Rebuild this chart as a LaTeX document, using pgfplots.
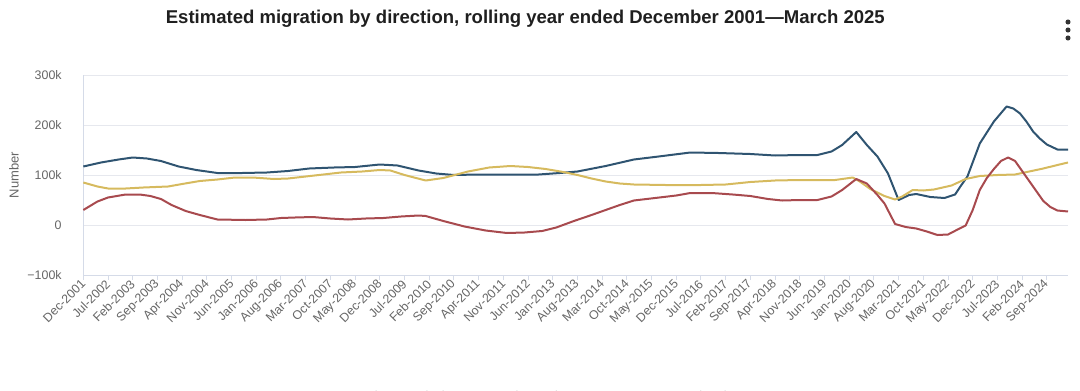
\documentclass[border=0pt]{standalone}
\usepackage{pgfplots}
\pgfplotsset{compat=1.18}
\usepackage{fontspec}
\setmainfont{Liberation Sans}
\definecolor{cblue}{HTML}{2F5471}
\definecolor{cgold}{HTML}{D6BA5E}
\definecolor{cred}{HTML}{A84A4E}
\definecolor{axisc}{HTML}{D5DBE8}
\definecolor{gridc}{HTML}{E6E8EE}
\definecolor{labc}{HTML}{666666}
\begin{document}
\begin{tikzpicture}
\useasboundingbox (0,0) rectangle (810pt,292.5pt);
\node[font=\bfseries\fontsize{13.9}{16}\selectfont, text=black!88] at (394pt,278.5pt) {Estimated migration by direction, rolling year ended December 2001—March 2025};
\fill[black!80] (801pt,276pt) circle (1.9pt) (801pt,270pt) circle (1.9pt) (801pt,264pt) circle (1.9pt);
\begin{axis}[
  at={(62.5pt,86.25pt)}, anchor=south west, scale only axis,
  width=738.5pt, height=150pt,
  xmin=0, xmax=279, ymin=-100, ymax=300,
  xtick={0,7,...,273},
  xticklabels={Dec-2001,Jul-2002,Feb-2003,Sep-2003,Apr-2004,Nov-2004,Jun-2005,Jan-2006,Aug-2006,Mar-2007,Oct-2007,May-2008,Dec-2008,Jul-2009,Feb-2010,Sep-2010,Apr-2011,Nov-2011,Jun-2012,Jan-2013,Aug-2013,Mar-2014,Oct-2014,May-2015,Dec-2015,Jul-2016,Feb-2017,Sep-2017,Apr-2018,Nov-2018,Jun-2019,Jan-2020,Aug-2020,Mar-2021,Oct-2021,May-2022,Dec-2022,Jul-2023,Feb-2024,Sep-2024},
  ytick={-100,0,100,200,300},
  yticklabels={−100k,0,100k,200k,300k},
  axis x line*=bottom, axis y line*=left,
  axis line style={draw=axisc, line width=0.75pt, -},
  tick align=outside, major tick length=3.75pt,
  xtick style={draw=axisc, line width=0.75pt},
  ytick style={draw=none},
  ymajorgrids, grid style={draw=gridc, line width=0.75pt},
  /pgf/number format/assume math mode=true,
  tick label style={font=\fontsize{9.3}{11}\selectfont, text=labc},
  xticklabel style={rotate=45, anchor=east, inner sep=1pt, yshift=-1pt},
  yticklabel style={xshift=-9pt},
  ylabel={Number},
  ylabel style={at={(axis description cs:-0.0704,0.5)}, anchor=center, font=\fontsize{9.75}{11}\selectfont, text=labc},
  legend style={at={(0.464,-0.552)}, anchor=north, legend columns=3, draw=none, fill=none, font=\fontsize{9.5}{11}\selectfont, text=labc, /tikz/every even column/.append style={column sep=18pt}},
  legend cell align=left,
  every axis plot/.append style={line width=1.5pt, line join=round},
  clip=false,
]
\addplot[cblue] coordinates {
(0,117)(5,125)(10,131)(14,135)(18,133)(22,128)(27,117)(32,110)(38,104)(45,104)(52,105)(58,108)(64,113)(71,115)(77,116)(84,121)(89,119)(95,109)(100,103)(105,100)(112,101)(121,101)(129,101)(135,104)(140,107)(148,118)(156,131)(163,137)(172,145)(180,144)(189,142)(196,139)(203,140)(208,140)(212,147)(215,160)(219,186)(222,160)(225,137)(228,103)(231,50)(234,60)(236,62)(240,56)(244,54)(247,61)(248.5,77)(250.5,97)(254,163)(258,207)(261.6,237)(263.5,233)(265.4,223)(267.2,207)(269.1,187)(271,173)(273,161)(276,151)(279,151)
};
\addlegendentry{Migrant arrivals}
\addplot[cgold] coordinates {
(0,85)(4,77)(7,73)(12,73)(17,75)(24,77)(28,82)(33,88)(38,91)(43,95)(48,95)(54,92)(58,93)(63,97)(68,101)(73,105)(79,107)(84,110)(87,109)(91,100)(97,89)(102,94)(109,107)(115,115)(121,118)(126,116)(131,112)(136,106)(140,100)(144,93)(148,87)(152,83)(156,81)(165,80)(175,80)(182,81)(189,86)(196,89)(203,90)(208,90)(213,90)(216,93)(218,95)(220,87)(223,72)(227,58)(230,51)(232,57)(235,70)(238,69)(241,71)(246,79)(250,92)(254,98)(259,100)(264,101)(268,107)(272,113)(276,120)(279,125)
};
\addlegendentry{Migrant departures}
\addplot[cred] coordinates {
(0,30)(4,47)(7,55)(12,61)(16,61)(19,58)(22,52)(25,40)(29,28)(33,20)(38,11)(46,10)(52,11)(56,14)(60,15)(65,16)(70,13)(75,11)(80,13)(85,14)(90,17)(95,19)(97,18)(102,8)(108,-3)(114,-11)(120,-16)(125,-15)(130,-12)(134,-5)(139,8)(144,20)(148,30)(152,40)(156,49)(162,54)(168,59)(172,64)(178,64)(184,61)(189,58)(194,52)(198,49)(203,50)(208,50)(212,57)(215,70)(219,92)(222,83)(225,60)(227,43)(230,2)(233,-4)(236,-7)(239,-13)(242,-20)(245,-19)(248,-8)(250,-1)(252,30)(254,70)(256,94)(258,112)(260,128)(262,135)(264,128)(266,108)(268,88)(270,68)(272,48)(274,36)(276,29)(279,27)
};
\addlegendentry{Net migration}
\end{axis}
\end{tikzpicture}
\end{document}
